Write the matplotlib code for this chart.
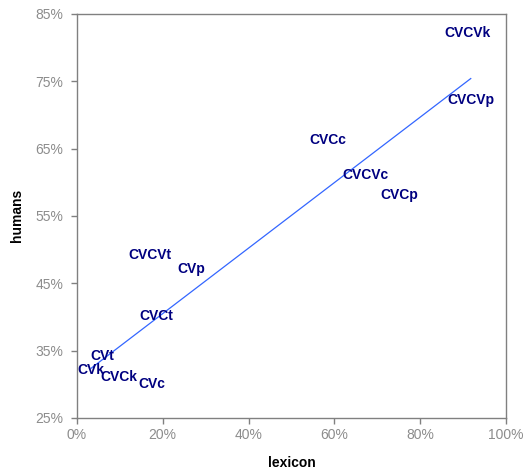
import numpy as np
import matplotlib.pyplot as plt
from matplotlib.ticker import PercentFormatter, MultipleLocator

plt.rcParams["font.family"] = ["Liberation Sans", "DejaVu Sans"]

# syllable types: lexicon share vs. human share (percent)
labels = ["CVCVk", "CVCVp", "CVCc", "CVCVc", "CVCp", "CVCVt",
          "CVp", "CVCt", "CVt", "CVk", "CVCk", "CVc"]
lexicon = [91.0, 91.8, 58.4, 67.2, 75.1, 17.1, 26.7, 18.6, 6.0, 3.3, 9.7, 17.5]
humans = [82.2, 72.2, 66.3, 61.1, 58.1, 49.2, 47.1, 40.1, 34.2, 32.1, 31.1, 30.0]
yticks = [25, 35, 45, 55, 65, 75, 85]

fig = plt.figure(figsize=(5.27, 4.76), dpi=100)
ax = fig.add_axes([0.146, 0.122, 0.814, 0.849])

# data labels stand in for the markers
for lab, xv, yv in zip(labels, lexicon, humans):
    ax.text(xv, yv, lab, ha="center", va="center", fontsize=10,
            fontweight="bold", color="#000080")

# linear trendline over the data range
x = np.array(lexicon)
y = np.array(humans)
slope, icpt = np.polyfit(x, y, 1)
xs = np.array([x.min(), x.max()])
ax.plot(xs, slope * xs + icpt, color="#3366ff", lw=0.9)

ax.set_xlim(0, 100)
ax.set_ylim(25, 85)
ax.xaxis.set_major_locator(MultipleLocator(20))
ax.set_yticks(yticks)
ax.xaxis.set_major_formatter(PercentFormatter(decimals=0))
ax.yaxis.set_major_formatter(PercentFormatter(decimals=0))

for sp in ax.spines.values():
    sp.set_color("#808080")
    sp.set_linewidth(1.0)
ax.tick_params(colors="#808080", labelcolor="#8c8c8c", labelsize=10,
               length=4, width=1.0, direction="out")
ax.tick_params(axis="y", pad=6)

ax.set_xlabel("lexicon", fontsize=10, fontweight="bold", labelpad=10)
ax.set_ylabel("humans", fontsize=10, fontweight="bold", labelpad=8)

fig.savefig("out.png", dpi=100)
